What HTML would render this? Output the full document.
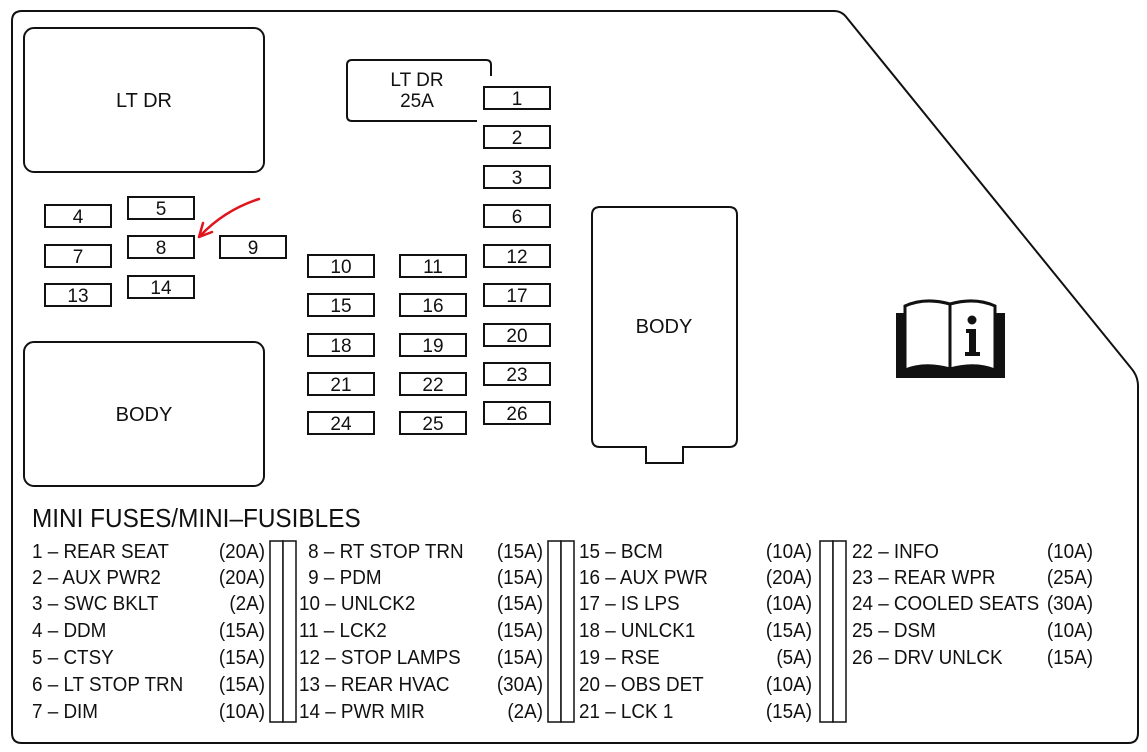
<!DOCTYPE html>
<html><head><style>
html,body{margin:0;padding:0;background:#fff;}
svg{display:block;}
text{font-family:"Liberation Sans",sans-serif;fill:#111;}
.f{fill:#fff;stroke:#111;stroke-width:2;}
.n{font-size:19px;text-anchor:middle;}
.l{font-size:20.5px;}
.a{font-size:20.5px;text-anchor:end;}
</style></head><body>
<svg width="1147" height="752" viewBox="0 0 1147 752" xmlns="http://www.w3.org/2000/svg">
<path d="M22 11 H834 Q842 11 847 18 L1131 368 Q1138 376 1138 386 V733 Q1138 743 1128 743 H22 Q12 743 12 733 V21 Q12 11 22 11 Z" fill="#fff" stroke="#111" stroke-width="2"/>
<rect class="f" x="24" y="28" width="240" height="144" rx="10"/>
<text x="144" y="107" class="n" style="font-size:20px">LT DR</text>
<rect class="f" x="24" y="342" width="240" height="144" rx="10"/>
<text x="144" y="421" class="n" style="font-size:20px">BODY</text>
<path d="M477 121 H352 Q347 121 347 116 V65 Q347 60 352 60 H486 Q491 60 491 65 V76" fill="none" stroke="#111" stroke-width="2"/>
<text x="417" y="86" class="n">LT DR</text>
<text x="417" y="107" class="n">25A</text>
<path d="M600 207 H729 Q737 207 737 215 V439 Q737 447 729 447 H683 V463 H646 V447 H600 Q592 447 592 439 V215 Q592 207 600 207 Z" fill="#fff" stroke="#111" stroke-width="2"/>
<text x="664" y="333" class="n" style="font-size:20px">BODY</text>
<g>
<rect class="f" x="45" y="205" width="66" height="22"/><text class="n" x="78" y="223">4</text>
<rect class="f" x="128" y="197" width="66" height="22"/><text class="n" x="161" y="215">5</text>
<rect class="f" x="45" y="245" width="66" height="22"/><text class="n" x="78" y="263">7</text>
<rect class="f" x="128" y="236" width="66" height="22"/><text class="n" x="161" y="254">8</text>
<rect class="f" x="220" y="236" width="66" height="22"/><text class="n" x="253" y="254">9</text>
<rect class="f" x="45" y="284" width="66" height="22"/><text class="n" x="78" y="302">13</text>
<rect class="f" x="128" y="276" width="66" height="22"/><text class="n" x="161" y="294">14</text>

<rect class="f" x="308" y="255" width="66" height="22"/><text class="n" x="341" y="273">10</text>
<rect class="f" x="308" y="294" width="66" height="22"/><text class="n" x="341" y="312">15</text>
<rect class="f" x="308" y="334" width="66" height="22"/><text class="n" x="341" y="352">18</text>
<rect class="f" x="308" y="373" width="66" height="22"/><text class="n" x="341" y="391">21</text>
<rect class="f" x="308" y="412" width="66" height="22"/><text class="n" x="341" y="430">24</text>

<rect class="f" x="400" y="255" width="66" height="22"/><text class="n" x="433" y="273">11</text>
<rect class="f" x="400" y="294" width="66" height="22"/><text class="n" x="433" y="312">16</text>
<rect class="f" x="400" y="334" width="66" height="22"/><text class="n" x="433" y="352">19</text>
<rect class="f" x="400" y="373" width="66" height="22"/><text class="n" x="433" y="391">22</text>
<rect class="f" x="400" y="412" width="66" height="22"/><text class="n" x="433" y="430">25</text>

<rect class="f" x="484" y="87" width="66" height="22"/><text class="n" x="517" y="105">1</text>
<rect class="f" x="484" y="126" width="66" height="22"/><text class="n" x="517" y="144">2</text>
<rect class="f" x="484" y="166" width="66" height="22"/><text class="n" x="517" y="184">3</text>
<rect class="f" x="484" y="205" width="66" height="22"/><text class="n" x="517" y="223">6</text>
<rect class="f" x="484" y="245" width="66" height="22"/><text class="n" x="517" y="263">12</text>
<rect class="f" x="484" y="284" width="66" height="22"/><text class="n" x="517" y="302">17</text>
<rect class="f" x="484" y="324" width="66" height="22"/><text class="n" x="517" y="342">20</text>
<rect class="f" x="484" y="363" width="66" height="22"/><text class="n" x="517" y="381">23</text>
<rect class="f" x="484" y="402" width="66" height="22"/><text class="n" x="517" y="420">26</text>
</g>
<path d="M259 199 Q225 210 201 235" fill="none" stroke="#e0141c" stroke-width="2.5" stroke-linecap="round"/>
<path d="M199 237 L203 223 M199 237 L212 232" fill="none" stroke="#e0141c" stroke-width="2.5" stroke-linecap="round"/>
<g>
<rect x="896" y="313" width="109" height="65" fill="#111"/>
<path d="M905 306 Q925 297 950 304 Q975 297 995 306 V370 Q975 362 950 369 Q925 362 905 370 Z" fill="#fff" stroke="#111" stroke-width="3"/>
<line x1="950" y1="304" x2="950" y2="372" stroke="#111" stroke-width="3"/>
<path d="M905 372 Q925 362 950 370 Q975 362 995 372 V378 H905 Z" fill="#111"/>
<circle cx="972" cy="320" r="4.5" fill="#111"/>
<path d="M966 329 H976 V352 H980 V356 H965 V352 H969 V333 H966 Z" fill="#111"/>
</g>
<g transform="translate(32,0) scale(0.955,1)"><text x="0" y="527" style="font-size:25.5px">MINI FUSES/MINI–FUSIBLES</text></g>
<g fill="#fff" stroke="#111" stroke-width="1.5">
<rect x="270" y="541" width="13" height="181"/><rect x="283" y="541" width="13" height="181"/>
<rect x="548" y="541" width="13" height="181"/><rect x="561" y="541" width="13" height="181"/>
<rect x="820" y="541" width="13" height="181"/><rect x="833" y="541" width="13" height="181"/>
</g>
<g transform="translate(32,0) scale(0.92,1)">
<text class="l" x="0" y="558">1 – REAR SEAT</text>
<text class="l" x="0" y="584">2 – AUX PWR2</text>
<text class="l" x="0" y="610">3 – SWC BKLT</text>
<text class="l" x="0" y="637">4 – DDM</text>
<text class="l" x="0" y="664">5 – CTSY</text>
<text class="l" x="0" y="691">6 – LT STOP TRN</text>
<text class="l" x="0" y="718">7 – DIM</text>
</g>
<g transform="translate(265,0) scale(0.92,1)">
<text class="a" x="0" y="558">(20A)</text><text class="a" x="0" y="584">(20A)</text><text class="a" x="0" y="610">(2A)</text><text class="a" x="0" y="637">(15A)</text><text class="a" x="0" y="664">(15A)</text><text class="a" x="0" y="691">(15A)</text><text class="a" x="0" y="718">(10A)</text>
</g>
<g transform="translate(299,0) scale(0.92,1)">
<text class="l" x="10" y="558">8 – RT STOP TRN</text>
<text class="l" x="10" y="584">9 – PDM</text>
<text class="l" x="0" y="610">10 – UNLCK2</text>
<text class="l" x="0" y="637">11 – LCK2</text>
<text class="l" x="0" y="664">12 – STOP LAMPS</text>
<text class="l" x="0" y="691">13 – REAR HVAC</text>
<text class="l" x="0" y="718">14 – PWR MIR</text>
</g>
<g transform="translate(543,0) scale(0.92,1)">
<text class="a" x="0" y="558">(15A)</text><text class="a" x="0" y="584">(15A)</text><text class="a" x="0" y="610">(15A)</text><text class="a" x="0" y="637">(15A)</text><text class="a" x="0" y="664">(15A)</text><text class="a" x="0" y="691">(30A)</text><text class="a" x="0" y="718">(2A)</text>
</g>
<g transform="translate(579,0) scale(0.92,1)">
<text class="l" x="0" y="558">15 – BCM</text>
<text class="l" x="0" y="584">16 – AUX PWR</text>
<text class="l" x="0" y="610">17 – IS LPS</text>
<text class="l" x="0" y="637">18 – UNLCK1</text>
<text class="l" x="0" y="664">19 – RSE</text>
<text class="l" x="0" y="691">20 – OBS DET</text>
<text class="l" x="0" y="718">21 – LCK 1</text>
</g>
<g transform="translate(812,0) scale(0.92,1)">
<text class="a" x="0" y="558">(10A)</text><text class="a" x="0" y="584">(20A)</text><text class="a" x="0" y="610">(10A)</text><text class="a" x="0" y="637">(15A)</text><text class="a" x="0" y="664">(5A)</text><text class="a" x="0" y="691">(10A)</text><text class="a" x="0" y="718">(15A)</text>
</g>
<g transform="translate(852,0) scale(0.92,1)">
<text class="l" x="0" y="558">22 – INFO</text>
<text class="l" x="0" y="584">23 – REAR WPR</text>
<text class="l" x="0" y="610">24 – COOLED SEATS</text>
<text class="l" x="0" y="637">25 – DSM</text>
<text class="l" x="0" y="664">26 – DRV UNLCK</text>
</g>
<g transform="translate(1093,0) scale(0.92,1)">
<text class="a" x="0" y="558">(10A)</text><text class="a" x="0" y="584">(25A)</text><text class="a" x="0" y="610">(30A)</text><text class="a" x="0" y="637">(10A)</text><text class="a" x="0" y="664">(15A)</text>
</g>
</svg>
</body></html>
